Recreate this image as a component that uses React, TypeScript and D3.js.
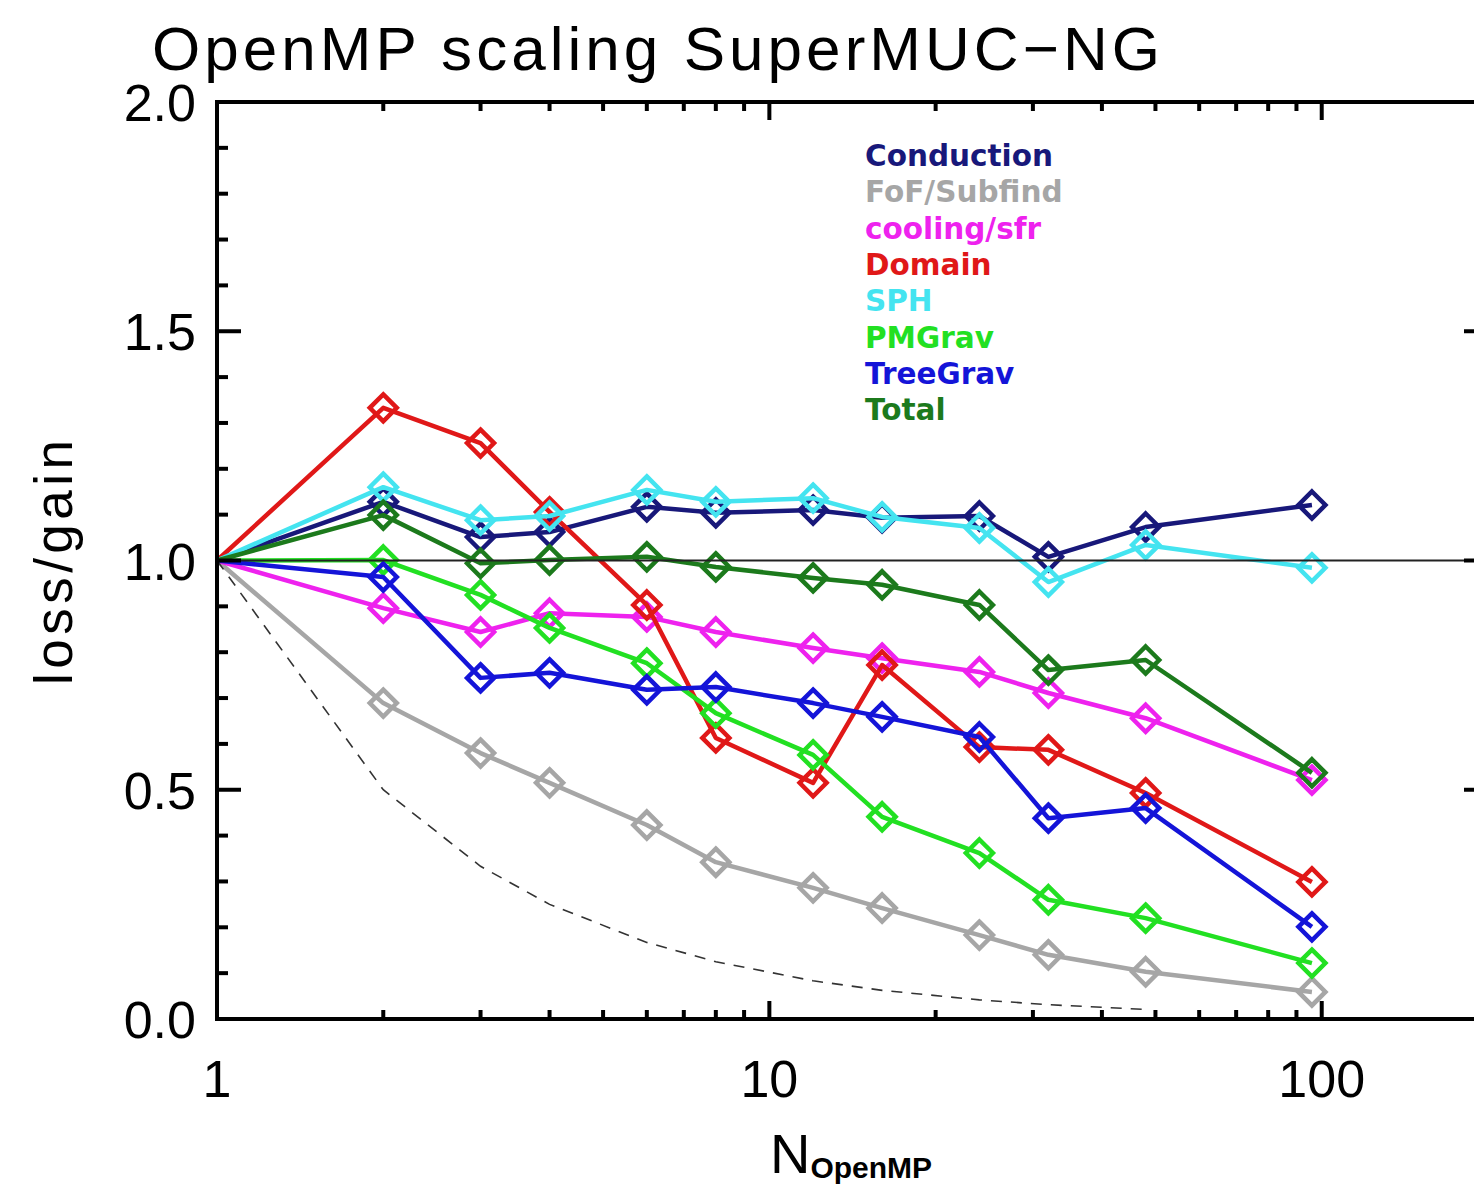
import React from 'react';
import * as d3 from 'd3';

const W = 1474;
const H = 1185;

const nThreads = [1, 2, 3, 4, 6, 8, 12, 16, 24, 32, 48, 96];
const conduction = [1.0, 1.128, 1.051, 1.062, 1.117, 1.104, 1.110, 1.093, 1.097, 1.008, 1.073, 1.121];
const fofSubfind = [1.0, 0.689, 0.580, 0.515, 0.423, 0.342, 0.286, 0.242, 0.183, 0.140, 0.103, 0.059];
const coolingSfr = [1.0, 0.896, 0.844, 0.885, 0.877, 0.844, 0.809, 0.787, 0.757, 0.711, 0.656, 0.521];
const domain = [1.0, 1.333, 1.256, 1.106, 0.903, 0.613, 0.515, 0.772, 0.593, 0.587, 0.493, 0.299];
const sph = [1.0, 1.160, 1.088, 1.097, 1.154, 1.128, 1.136, 1.095, 1.071, 0.953, 1.034, 0.984];
const pmGrav = [1.0, 1.001, 0.925, 0.853, 0.776, 0.667, 0.576, 0.441, 0.362, 0.260, 0.220, 0.122];
const treeGrav = [1.0, 0.964, 0.744, 0.755, 0.718, 0.724, 0.689, 0.659, 0.615, 0.438, 0.460, 0.201];
const total = [1.0, 1.099, 0.994, 1.001, 1.008, 0.986, 0.962, 0.947, 0.903, 0.761, 0.783, 0.537];

const idealN = [1, 2, 3, 4, 6, 8, 12, 16, 24, 32, 48];
const idealValues = [1.0, 0.5, 0.333, 0.25, 0.167, 0.125, 0.0833, 0.0625, 0.0417, 0.03125, 0.0208];

const seriesNames = ['Conduction', 'FoF/Subfind', 'cooling/sfr', 'Domain', 'SPH', 'PMGrav', 'TreeGrav', 'Total'];
const seriesValues = [conduction, fofSubfind, coolingSfr, domain, sph, pmGrav, treeGrav, total];
const seriesColors = ['#18187a', '#a6a6a6', '#ee22ee', '#e01818', '#44e4f0', '#22e022', '#1414d8', '#1c7a1c'];

const xMajorTicks = [1, 10, 100];
const xMinorTicks = [2, 3, 4, 5, 6, 7, 8, 9, 20, 30, 40, 50, 60, 70, 80, 90];
const xTickLabels = ['1', '10', '100'];
const yMajorTicks = [0, 0.5, 1.0, 1.5, 2.0];
const yTickLabels = ['0.0', '0.5', '1.0', '1.5', '2.0'];
const yMinorTicks = [0.1, 0.2, 0.3, 0.4, 0.6, 0.7, 0.8, 0.9, 1.1, 1.2, 1.3, 1.4, 1.6, 1.7, 1.8, 1.9];

const titleText = 'OpenMP scaling SuperMUC\u2212NG';
const yLabel = 'loss/gain';

export default function App() {
  const x = d3.scaleLog().domain([1, 200]).range([217, 1488]);
  const y = d3.scaleLinear().domain([0, 2]).range([1019, 102]);
  const [x0, x1] = x.range();
  const [yb, yt] = y.range();

  const line = d3
    .line<[number, number]>()
    .x((d) => x(d[0]))
    .y((d) => y(d[1]));

  const font = "'Liberation Sans', Arial, sans-serif";
  const legendFont = "'DejaVu Sans', sans-serif";
  const axisW = 4;

  const diamond = (cx: number, cy: number, r: number) =>
    `M${cx},${cy - r}L${cx + r},${cy}L${cx},${cy + r}L${cx - r},${cy}Z`;

  return (
    <svg
      width={W}
      height={H}
      viewBox={`0 0 ${W} ${H}`}
      style={{ position: 'absolute', left: 0, top: 0, background: '#fff' }}
    >
      <rect x={0} y={0} width={W} height={H} fill="#fff" />
      {/* title */}
      <text x={152} y={70} fontFamily={font} fontSize={62} fill="#000" textLength={1008} lengthAdjust="spacing">
        {titleText}
      </text>

      {/* series */}
      {seriesValues.map((vals, i) => {
        const pts = nThreads.map((n, j) => [n, vals[j]] as [number, number]);
        return (
          <g key={seriesNames[i]}>
            <path d={line(pts) || ''} fill="none" stroke={seriesColors[i]} strokeWidth={4.5} strokeLinejoin="round" />
            {pts.slice(1).map((p, j) => (
              <path key={j} d={diamond(x(p[0]), y(p[1]), 13.5)} fill="none" stroke={seriesColors[i]} strokeWidth={4.5} />
            ))}
          </g>
        );
      })}

      {/* ideal scaling */}
      <path
        d={line(idealN.map((n, j) => [n, idealValues[j]] as [number, number])) || ''}
        fill="none"
        stroke="#333"
        strokeWidth={1.6}
        strokeDasharray="11,9"
      />
      {/* reference line at 1 */}
      <line x1={x0} x2={x1} y1={y(1)} y2={y(1)} stroke="#222" strokeWidth={1.8} />

      {/* axes box */}
      <rect x={x0} y={yt} width={x1 - x0} height={yb - yt} fill="none" stroke="#000" strokeWidth={axisW} />

      {/* x ticks */}
      {xMajorTicks.map((t) => (
        <g key={'xM' + t}>
          <line x1={x(t)} x2={x(t)} y1={yb} y2={yb - 18} stroke="#000" strokeWidth={axisW} />
          <line x1={x(t)} x2={x(t)} y1={yt} y2={yt + 18} stroke="#000" strokeWidth={axisW} />
        </g>
      ))}
      {xMinorTicks.map((t) => (
        <g key={'xm' + t}>
          <line x1={x(t)} x2={x(t)} y1={yb} y2={yb - 9} stroke="#000" strokeWidth={axisW} />
          <line x1={x(t)} x2={x(t)} y1={yt} y2={yt + 9} stroke="#000" strokeWidth={axisW} />
        </g>
      ))}
      {xMajorTicks.map((t, i) => (
        <text key={'xl' + t} x={x(t)} y={1097} textAnchor="middle" fontFamily={font} fontSize={52} fill="#000">
          {xTickLabels[i]}
        </text>
      ))}

      {/* y ticks */}
      {yMajorTicks.map((t) => (
        <g key={'yM' + t}>
          <line x1={x0} x2={x0 + 24} y1={y(t)} y2={y(t)} stroke="#000" strokeWidth={axisW} />
          <line x1={x1} x2={x1 - 24} y1={y(t)} y2={y(t)} stroke="#000" strokeWidth={axisW} />
        </g>
      ))}
      {yMinorTicks.map((t) => (
        <g key={'ym' + t}>
          <line x1={x0} x2={x0 + 11} y1={y(t)} y2={y(t)} stroke="#000" strokeWidth={axisW} />
          <line x1={x1} x2={x1 - 11} y1={y(t)} y2={y(t)} stroke="#000" strokeWidth={axisW} />
        </g>
      ))}
      {yMajorTicks.map((t, i) => (
        <text key={'yl' + t} x={196} y={y(t) + 19} textAnchor="end" fontFamily={font} fontSize={52} fill="#000">
          {yTickLabels[i]}
        </text>
      ))}

      {/* axis titles */}
      <text
        transform={`translate(72,${y(1) + 2}) rotate(-90)`}
        textAnchor="middle"
        fontFamily={font}
        fontSize={53}
        fill="#000"
        textLength={245}
        lengthAdjust="spacing"
      >
        {yLabel}
      </text>
      <text x={770} y={1173} fontFamily={font} fontSize={56} fill="#000">
        N
        <tspan fontSize={30} fontWeight="bold" dy={5}>
          OpenMP
        </tspan>
      </text>

      {/* legend */}
      {seriesNames.map((name, i) => (
        <text
          key={'lg' + name}
          x={865}
          y={166 + i * 36.3}
          fontFamily={legendFont}
          fontSize={29.5}
          fontWeight="bold"
          fill={seriesColors[i]}
        >
          {name}
        </text>
      ))}
    </svg>
  );
}
